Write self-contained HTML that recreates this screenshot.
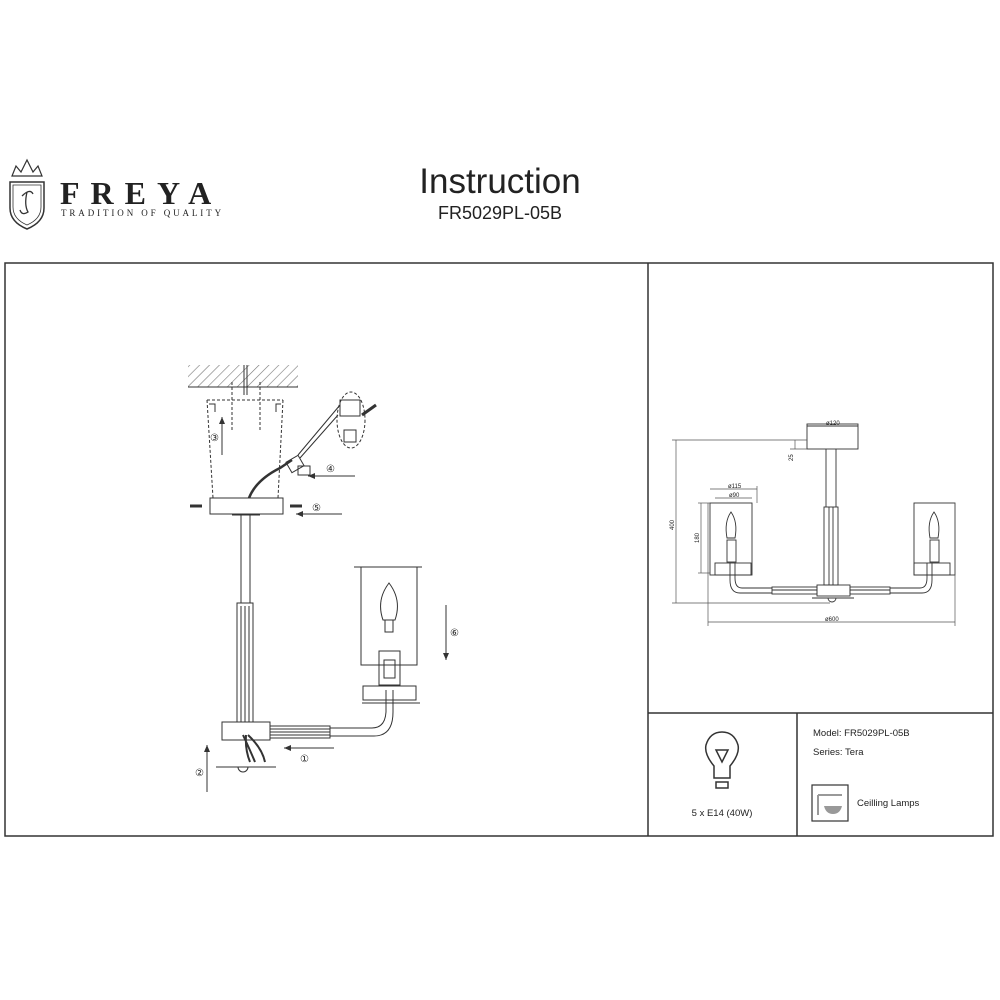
<!DOCTYPE html>
<html><head><meta charset="utf-8"><style>
html,body{margin:0;padding:0;background:#fff;width:1000px;height:1000px;overflow:hidden}
svg{display:block}
text{font-family:"Liberation Sans",sans-serif;fill:#222}
</style></head><body>
<svg width="1000" height="1000" viewBox="0 0 1000 1000" xmlns="http://www.w3.org/2000/svg">
<defs>
<pattern id="h" width="7" height="7" patternUnits="userSpaceOnUse" patternTransform="rotate(45)">
<line x1="0" y1="0" x2="0" y2="7" stroke="#777" stroke-width="1.2"/></pattern>
<marker id="a" markerWidth="8" markerHeight="8" refX="7" refY="4" orient="auto"><path d="M0,1 L7,4 L0,7 Z" fill="#333"/></marker>
</defs>
<!-- logo -->
<g stroke="#333" fill="none" stroke-width="1.5">
<path d="M10,182 L44,182 L44,208 Q44,222 27,229 Q10,222 10,208 Z"/>
<path d="M13,185 L41,185 L41,207 Q41,219 27,225 Q13,219 13,207 Z" stroke-width="0.8"/>
<path d="M12,176 L16,166 L21,172 L27,160 L33,172 L38,166 L42,176 Z" stroke-width="1.2"/>
<path d="M22,196 Q30,188 33,194 M27,192 Q24,205 28,212 Q22,216 20,210" stroke-width="1.3"/>
</g>
<text x="60" y="204" style="font-family:'Liberation Serif',serif;font-size:32px;font-weight:bold;letter-spacing:11px">FREYA</text>
<text x="61" y="216" style="font-family:'Liberation Serif',serif;font-size:9px;letter-spacing:2.9px">TRADITION OF QUALITY</text>
<text x="500" y="193" text-anchor="middle" style="font-size:35px">Instruction</text>
<text x="500" y="219" text-anchor="middle" style="font-size:18px">FR5029PL-05B</text>
<!-- frames -->
<g stroke="#333" stroke-width="1.5" fill="none">
<rect x="5" y="263" width="988" height="573"/>
<line x1="648" y1="263" x2="648" y2="836"/>
<line x1="648" y1="713" x2="993" y2="713"/>
<line x1="797" y1="713" x2="797" y2="836"/>
</g>
<!-- assembly drawing -->
<g stroke="#333" stroke-width="1" fill="none">
<rect x="188" y="365" width="110" height="22" fill="url(#h)" stroke="none"/>
<line x1="188" y1="387" x2="298" y2="387"/>
<line x1="244" y1="365" x2="244" y2="395"/><line x1="247" y1="365" x2="247" y2="395"/>
<path d="M207,400 L283,400 M207,400 L213,498 M283,400 L278,498" stroke-dasharray="3,2"/>
<path d="M209,404 L215,404 L215,412 M281,404 L276,404 L276,412"/>
<line x1="232" y1="382" x2="232" y2="430" stroke-dasharray="3,2"/>
<line x1="260" y1="382" x2="260" y2="430" stroke-dasharray="3,2"/>
<rect x="210" y="498" width="73" height="16"/>
<line x1="232" y1="515" x2="260" y2="515"/>
<path d="M249,498 Q256,480 280,468 L292,460" stroke-width="2.5"/>
<rect x="288" y="458" width="14" height="12" transform="rotate(-30 295 464)"/>
<rect x="298" y="466" width="12" height="9"/>
<path d="M300,458 L338,415 M298,455 L340,405"/>
<ellipse cx="351" cy="420" rx="14" ry="28" stroke-dasharray="3,2"/>
<rect x="340" y="400" width="20" height="16"/><rect x="344" y="430" width="12" height="12"/>
<line x1="362" y1="415" x2="376" y2="405" stroke-width="3"/>
<line x1="190" y1="506" x2="202" y2="506" stroke-width="3"/>
<line x1="290" y1="506" x2="302" y2="506" stroke-width="3"/>
<line x1="241" y1="515" x2="241" y2="603"/><line x1="250" y1="515" x2="250" y2="603"/>
<rect x="237" y="603" width="16" height="119"/>
<line x1="241" y1="606" x2="241" y2="722"/><line x1="245" y1="606" x2="245" y2="722"/><line x1="249" y1="606" x2="249" y2="722"/>
<rect x="222" y="722" width="48" height="18"/>
<path d="M243,735 Q250,750 255,762 M248,735 Q262,748 265,762 M246,735 Q245,750 250,762" stroke-width="2"/>
<rect x="270" y="726" width="60" height="12"/>
<line x1="270" y1="729" x2="330" y2="729"/><line x1="270" y1="732" x2="330" y2="732"/><line x1="270" y1="735" x2="330" y2="735"/>
<path d="M330,728 L372,728 Q385,728 386,712 L386,690 M330,736 L374,736 Q393,736 393,712 L393,690"/>
<line x1="354" y1="567" x2="422" y2="567"/>
<rect x="361" y="567" width="56" height="98"/>
<path d="M389,583 Q376,600 383,620 L395,620 Q402,600 389,583 Z"/>
<rect x="385" y="620" width="8" height="12"/>
<rect x="379" y="651" width="21" height="34"/><rect x="384" y="660" width="11" height="18"/>
<rect x="363" y="686" width="53" height="14"/>
<line x1="362" y1="703" x2="420" y2="703"/>
<line x1="216" y1="767" x2="276" y2="767"/>
<path d="M238,767 A5,5 0 0 0 248,767"/>
<g marker-end="url(#a)">
<line x1="355" y1="476" x2="308" y2="476"/>
<line x1="342" y1="514" x2="296" y2="514"/>
<line x1="222" y1="455" x2="222" y2="417"/>
<line x1="446" y1="605" x2="446" y2="660"/>
<line x1="334" y1="748" x2="284" y2="748"/>
<line x1="207" y1="792" x2="207" y2="745"/>
</g>
</g>
<g style="font-size:10px">
<text x="326" y="472">④</text><text x="312" y="511">⑤</text><text x="210" y="441">③</text>
<text x="450" y="636">⑥</text><text x="300" y="762">①</text><text x="195" y="776">②</text>
</g>
<!-- dimension drawing -->
<g stroke="#333" stroke-width="0.9" fill="none">
<rect x="807" y="424" width="51" height="25"/>
<line x1="807" y1="426" x2="858" y2="426"/>
<line x1="826" y1="449" x2="826" y2="507"/><line x1="836" y1="449" x2="836" y2="507"/>
<rect x="824" y="507" width="14" height="78"/>
<line x1="829" y1="507" x2="829" y2="585"/><line x1="833" y1="507" x2="833" y2="585"/>
<rect x="817" y="585" width="33" height="11"/>
<line x1="812" y1="598" x2="854" y2="598"/>
<path d="M828,598 A4,4 0 0 0 836,598"/>
<rect x="772" y="587" width="45" height="7"/><rect x="850" y="587" width="40" height="7"/>
<line x1="772" y1="590" x2="817" y2="590"/><line x1="850" y1="590" x2="890" y2="590"/>
<path d="M772,588 L742,588 Q735,588 735,578 L735,563 M772,593 L740,593 Q730,593 730,580 L730,563"/>
<path d="M890,588 L920,588 Q927,588 927,578 L927,563 M890,593 L922,593 Q932,593 932,580 L932,563"/>
<rect x="710" y="503" width="42" height="72"/><rect x="715" y="563" width="36" height="12"/>
<rect x="914" y="503" width="41" height="72"/><rect x="914" y="563" width="36" height="12"/>
<path d="M731,512 Q724,522 727,538 L735,538 Q738,522 731,512 Z"/><rect x="727" y="540" width="9" height="22"/>
<path d="M934,512 Q927,522 930,538 L938,538 Q941,522 934,512 Z"/><rect x="930" y="540" width="9" height="22"/>
<g stroke="#555" stroke-width="0.7">
<line x1="676" y1="440" x2="676" y2="603"/><line x1="672" y1="440" x2="807" y2="440"/><line x1="672" y1="603" x2="830" y2="603"/>
<line x1="708" y1="622" x2="955" y2="622"/><line x1="708" y1="503" x2="708" y2="626"/><line x1="955" y1="503" x2="955" y2="626"/>
<line x1="710" y1="489" x2="757" y2="489"/><line x1="757" y1="486" x2="757" y2="503"/>
<line x1="715" y1="498" x2="752" y2="498"/>
<line x1="701" y1="503" x2="701" y2="573"/><line x1="698" y1="503" x2="710" y2="503"/><line x1="698" y1="573" x2="710" y2="573"/>
<line x1="795" y1="440" x2="795" y2="449"/><line x1="790" y1="449" x2="807" y2="449"/>
</g>
</g>
<g style="font-size:6px">
<text x="826" y="425">ø120</text><text x="728" y="488">ø115</text><text x="729" y="497">ø90</text>
<text x="825" y="621">ø600</text>
<text transform="translate(674,530) rotate(-90)">400</text>
<text transform="translate(699,543) rotate(-90)">180</text>
<text transform="translate(793,461) rotate(-90)">25</text>
</g>
<!-- bottom panel -->
<g stroke="#333" stroke-width="1.5" fill="none">
<path d="M714,778 L714,766 Q704,754 706,745 Q710,732 722,732 Q734,732 738,745 Q740,754 730,766 L730,778 Z"/>
<path d="M716,750 L728,750 L722,762 Z"/>
<rect x="716" y="782" width="12" height="6"/>
<rect x="812" y="785" width="36" height="36" stroke-width="1.2"/>
<path d="M818,795 L842,795 M818,795 L818,815" stroke="#999" stroke-width="2"/>
</g>
<path d="M824,806 L842,806 Q840,814 833,814 Q826,814 824,806 Z" fill="#999"/>
<text x="722" y="816" text-anchor="middle" style="font-size:9.5px">5 x E14 (40W)</text>
<text x="813" y="736" style="font-size:9.5px">Model: FR5029PL-05B</text>
<text x="813" y="755" style="font-size:9.5px">Series: Tera</text>
<text x="857" y="806" style="font-size:9.5px">Ceilling Lamps</text>
</svg>
</body></html>
